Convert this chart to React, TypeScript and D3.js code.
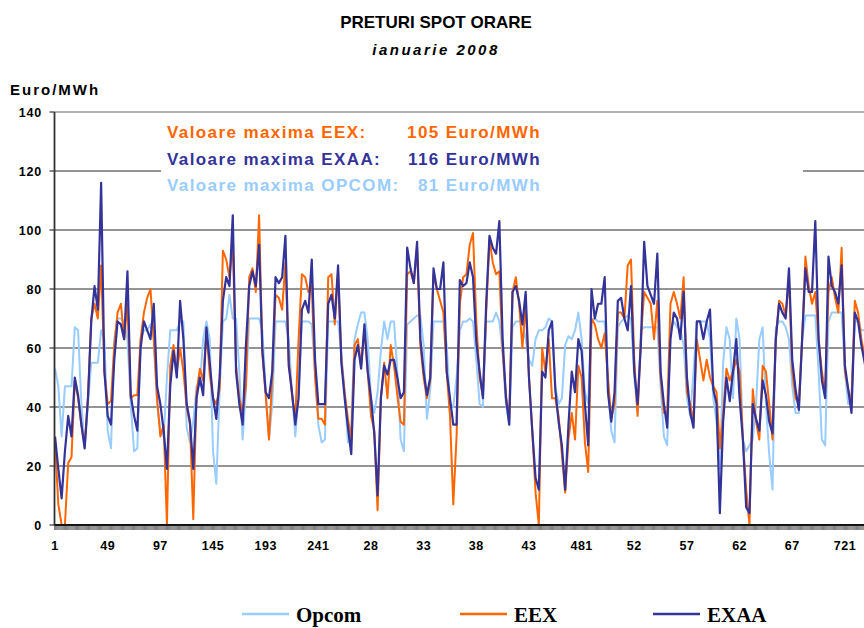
import React from "react";
import * as d3 from "d3";

// sampled every 3 hours, hour 1 .. 742
const sampleHours: number[] = d3.range(1, 745, 3);

const exaa: number[] = [
  30, 19, 9, 25, 37, 30, 50, 44, 34, 26, 43, 69, 81, 73, 116, 52, 37, 34, 56, 69,
  68, 63, 86, 44, 37, 32, 60, 69, 66, 63, 75, 47, 41, 32, 19, 47, 59, 50, 76, 63,
  41, 35, 19, 43, 50, 44, 67, 55, 43, 36, 50, 76, 84, 81, 105, 52, 41, 34, 61, 81,
  86, 81, 95, 59, 45, 43, 52, 84, 82, 84, 98, 54, 45, 34, 43, 73, 76, 72, 90, 56,
  41, 41, 41, 75, 78, 70, 88, 55, 43, 33, 24, 56, 61, 53, 68, 52, 43, 31, 10, 43,
  54, 51, 56, 56, 50, 43, 45, 94, 87, 82, 96, 63, 52, 44, 50, 87, 80, 80, 89, 52,
  43, 34, 34, 83, 81, 82, 89, 84, 62, 52, 43, 75, 98, 94, 92, 103, 63, 43, 34, 79,
  81, 76, 68, 79, 50, 32, 16, 12, 52, 50, 66, 69, 46, 35, 27, 12, 34, 52, 45, 63,
  59, 41, 27, 80, 70, 75, 75, 84, 45, 35, 45, 76, 77, 70, 66, 81, 52, 41, 61, 96,
  81, 78, 75, 92, 52, 41, 33, 63, 72, 70, 63, 79, 50, 38, 33, 69, 69, 63, 69, 73,
  46, 41, 4, 35, 50, 42, 52, 63, 43, 29, 6, 4, 41, 36, 32, 49, 44, 35, 31, 63,
  75, 72, 70, 87, 56, 46, 39, 63, 87, 79, 79, 103, 63, 49, 43, 91, 81, 79, 75, 88,
  54, 46, 38, 72, 69, 61, 55, 48,
];

const eex: number[] = [
  28, 7, 0, 0, 21, 23, 49, 43, 34, 27, 43, 70, 75, 70, 88, 52, 41, 42, 61, 72,
  75, 63, 75, 43, 44, 44, 63, 72, 77, 80, 63, 43, 30, 34, 0, 54, 61, 52, 60, 52,
  40, 34, 2, 45, 53, 49, 66, 51, 43, 41, 46, 93, 90, 84, 95, 54, 43, 38, 47, 84,
  87, 79, 105, 58, 44, 29, 50, 78, 77, 73, 89, 56, 44, 36, 63, 85, 84, 79, 81, 50,
  36, 36, 34, 84, 85, 68, 86, 56, 45, 36, 29, 61, 63, 54, 66, 52, 37, 32, 5, 43,
  55, 43, 61, 54, 44, 35, 34, 85, 86, 82, 94, 61, 50, 43, 49, 85, 80, 76, 72, 52,
  37, 7, 30, 75, 84, 85, 95, 99, 69, 50, 44, 72, 97, 89, 85, 86, 59, 44, 36, 79,
  84, 75, 60, 75, 50, 32, 11, 0, 60, 52, 63, 43, 43, 37, 24, 11, 29, 38, 29, 54,
  50, 28, 18, 70, 68, 63, 60, 65, 50, 36, 41, 72, 72, 70, 88, 90, 56, 37, 63, 79,
  77, 75, 63, 76, 50, 38, 38, 75, 79, 75, 70, 84, 45, 41, 35, 63, 56, 49, 56, 50,
  47, 45, 26, 38, 53, 49, 52, 56, 52, 29, 12, 0, 46, 35, 29, 54, 52, 41, 29, 63,
  76, 75, 71, 84, 52, 43, 41, 63, 91, 81, 75, 79, 63, 52, 45, 79, 84, 77, 72, 94,
  52, 46, 41, 76, 72, 63, 57, 50,
];

const opcom: number[] = [
  53, 47, 30, 47, 47, 47, 67, 66, 41, 26, 41, 55, 55, 55, 66, 63, 32, 26, 63, 70,
  70, 69, 63, 41, 25, 26, 63, 66, 66, 68, 63, 41, 32, 30, 50, 66, 66, 66, 69, 69,
  33, 28, 35, 47, 47, 63, 69, 63, 25, 14, 45, 69, 70, 78, 70, 70, 52, 29, 46, 70,
  70, 70, 70, 66, 46, 29, 41, 69, 69, 69, 69, 63, 45, 30, 45, 69, 69, 69, 68, 52,
  34, 28, 29, 69, 69, 69, 69, 58, 45, 28, 34, 63, 68, 72, 72, 63, 43, 38, 45, 59,
  69, 63, 69, 69, 52, 29, 25, 68, 69, 70, 71, 71, 61, 36, 46, 69, 69, 69, 69, 61,
  41, 40, 50, 66, 69, 69, 70, 69, 56, 41, 40, 69, 69, 69, 72, 69, 58, 41, 34, 67,
  69, 69, 69, 63, 56, 54, 63, 66, 66, 67, 70, 69, 47, 41, 43, 61, 64, 63, 66, 72,
  63, 45, 41, 69, 70, 69, 69, 69, 47, 32, 28, 67, 69, 70, 71, 70, 50, 38, 66, 67,
  67, 67, 67, 67, 47, 30, 27, 66, 69, 67, 66, 61, 43, 37, 52, 69, 69, 69, 69, 63,
  43, 35, 19, 55, 67, 63, 43, 70, 63, 29, 25, 27, 29, 41, 63, 67, 41, 24, 12, 67,
  69, 69, 67, 63, 47, 38, 38, 63, 71, 71, 71, 71, 52, 29, 27, 69, 72, 72, 72, 72,
  52, 41, 45, 69, 69, 66, 66, 60,
];

const tickHours: number[] = d3.range(1, 745, 48);
const tickLabels: string[] = ["1", "49", "97", "145", "193", "241", "28", "33", "38", "43", "481", "52", "57", "62", "67", "721"];
const yTicks: number[] = [0, 20, 40, 60, 80, 100, 120, 140];

const seriesNames: string[] = ["Opcom", "EEX", "EXAA"];
const seriesColors: string[] = ["#99CCFF", "#FF6600", "#333399"];

const notes = [
  { label: "Valoare maxima EEX:", value: "105 Euro/MWh", color: "#FF6600" },
  { label: "Valoare maxima EXAA:", value: "116 Euro/MWh", color: "#333399" },
  { label: "Valoare maxima OPCOM:", value: "81 Euro/MWh", color: "#99CCFF" },
];

const W = 864, H = 628;
const top = 112, bottom = 525, left = 54.5;

export default function App() {
  const x = d3.scaleLinear().domain([0.5, 744.5]).range([left, 870.7]);
  const y = d3.scaleLinear().domain([0, 140]).range([bottom, top]);

  const line = d3.line<number>()
    .x((_, i) => x(sampleHours[i]))
    .y(d => y(d));

  const series = [opcom, eex, exaa];

  // category tick marks between every hour
  const catTicks = d3.range(0, 745).map(h => `M${x(h + 0.5)},${bottom}v5`).join("");

  const sans = "'Liberation Sans', Arial, sans-serif";

  return (
    <svg width={W} height={H} style={{ position: "absolute", left: 0, top: 0, background: "#fff" }}>
      <defs>
        <clipPath id="plot">
          <rect x={left} y={top - 5} width={W - left} height={bottom - top + 7} />
        </clipPath>
      </defs>

      <text x={436} y={28} textAnchor="middle" fontFamily={sans} fontWeight="bold" fontSize={17}>
        PRETURI SPOT ORARE
      </text>
      <text x={436} y={55} textAnchor="middle" fontFamily={sans} fontWeight="bold" fontStyle="italic"
        fontSize={15} letterSpacing={2.5}>
        ianuarie 2008
      </text>
      <text x={10} y={95} fontFamily={sans} fontWeight="bold" fontSize={15} letterSpacing={2}>
        Euro/MWh
      </text>

      {yTicks.map(t => (
        <g key={t}>
          <line x1={left} x2={W} y1={y(t)} y2={y(t)} stroke={t === 140 ? "#9a9a9a" : "#707070"} strokeWidth={1.5} />
          <line x1={left - 5} x2={left} y1={y(t)} y2={y(t)} stroke="#333" strokeWidth={1.2} />
          <text x={42} y={y(t) + 4.5} textAnchor="end" fontFamily={sans} fontWeight="bold" fontSize={12.5}
            letterSpacing={0.8}>
            {t}
          </text>
        </g>
      ))}

      <rect x={161} y={114} width={642} height={86} fill="#fff" />
      {notes.map((n, i) => (
        <g key={n.label} fill={n.color} fontFamily={sans} fontWeight="bold" fontSize={17} letterSpacing={1.4}>
          <text x={167} y={138 + i * 26.5}>{n.label}</text>
          <text x={541} y={138 + i * 26.5} textAnchor="end">{n.value}</text>
        </g>
      ))}

      <g clipPath="url(#plot)">
        {series.map((s, i) => (
          <path key={seriesNames[i]} d={line(s) ?? ""} fill="none" stroke={seriesColors[i]}
            strokeWidth={i === 2 ? 2.2 : 2} strokeLinejoin="round" />
        ))}
      </g>

      <line x1={left} x2={left} y1={top} y2={bottom} stroke="#333" strokeWidth={1.8} />
      <line x1={left} x2={W} y1={bottom} y2={bottom} stroke="#111" strokeWidth={1.8} />
      <path d={catTicks} stroke="#222" strokeWidth={0.6} />

      {tickHours.map((h, i) => (
        <text key={h} x={x(h)} y={550} textAnchor="middle" fontFamily={sans} fontWeight="bold" fontSize={12.5}
          letterSpacing={0.5}>
          {tickLabels[i]}
        </text>
      ))}

      {seriesNames.map((name, i) => {
        const lx = [242, 460, 653][i];
        return (
          <g key={name}>
            <line x1={lx} x2={lx + 47} y1={614} y2={614} stroke={seriesColors[i]} strokeWidth={2.5} />
            <text x={lx + 54} y={622} fontFamily="'Liberation Serif', 'Times New Roman', serif" fontWeight="bold"
              fontSize={21}>
              {name}
            </text>
          </g>
        );
      })}
    </svg>
  );
}
